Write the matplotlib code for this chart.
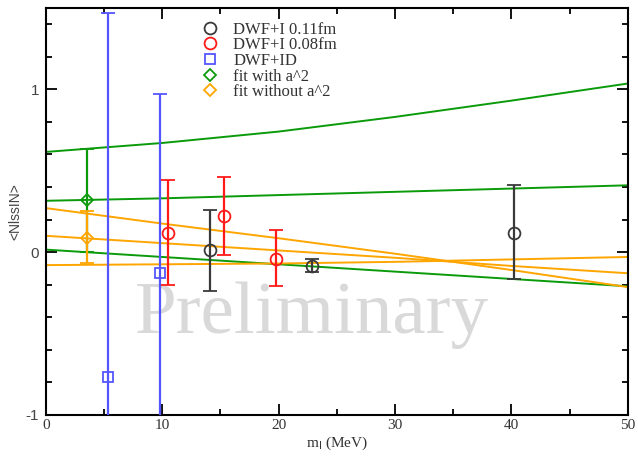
import numpy as np
import matplotlib.pyplot as plt
from matplotlib.lines import Line2D
from matplotlib.ticker import MultipleLocator

# DWF+I 0.11fm
x_011 = [14.1, 22.9, 40.2]
y_011 = [0.01, -0.085, 0.12]
lo_011 = [-0.24, -0.12, -0.165]
hi_011 = [0.26, -0.045, 0.41]

# DWF+I 0.08fm
x_008 = [10.5, 15.3, 19.8]
y_008 = [0.115, 0.22, -0.04]
lo_008 = [-0.205, -0.02, -0.21]
hi_008 = [0.44, 0.46, 0.135]

# DWF+ID
x_id = [5.35, 9.8]
y_id = [-0.77, -0.13]
lo_id = [-3.0, -1.24]
hi_id = [1.47, 0.97]

# fit points at the chiral limit side
x_fit = [3.5]
y_fit_a2 = [0.32]
lo_fit_a2 = [0.0]
hi_fit_a2 = [0.63]
y_fit_noa2 = [0.085]
lo_fit_noa2 = [-0.07]
hi_fit_noa2 = [0.255]

# fit bands
band_x = [0, 10, 20, 30, 40, 50]
a2_upper = [0.615, 0.67, 0.74, 0.83, 0.93, 1.035]
a2_mid = [0.315, 0.33, 0.35, 0.37, 0.39, 0.41]
a2_lower = [0.015, -0.03, -0.075, -0.12, -0.165, -0.21]
noa2_upper = [0.27, 0.175, 0.085, -0.01, -0.11, -0.215]
noa2_mid = [0.10, 0.055, 0.01, -0.035, -0.085, -0.13]
noa2_lower = [-0.08, -0.075, -0.07, -0.06, -0.045, -0.03]

GREEN = "#0a9a0a"
ORANGE = "#ffa500"
BLUE = "#5555ff"
RED = "#ff1a1a"
GREY = "#3a3a3a"

fig = plt.figure(figsize=(6.38, 4.59), dpi=100)
ax = fig.add_axes([0.072, 0.096, 0.912, 0.887])

ax.text(22.9, -0.39, "Preliminary", fontsize=54, family="Liberation Serif",
        color="#d9d9d9", ha="center", va="center", zorder=0)

for ys in (a2_upper, a2_mid, a2_lower):
    ax.plot(band_x, ys, color=GREEN, lw=1.4, zorder=2)
for ys in (noa2_upper, noa2_mid, noa2_lower):
    ax.plot(band_x, ys, color=ORANGE, lw=1.4, zorder=2)


def draw(x, y, lo, hi, color, marker, ms):
    y = np.array(y)
    err = [y - np.array(lo), np.array(hi) - y]
    ax.errorbar(x, y, yerr=err, fmt=marker, color=color, mfc="none",
                mec=color, ms=ms, mew=1.3, elinewidth=1.6, capsize=5,
                capthick=1.6, zorder=3)


draw(x_fit, y_fit_a2, lo_fit_a2, hi_fit_a2, GREEN, "D", 6)
draw(x_fit, y_fit_noa2, lo_fit_noa2, hi_fit_noa2, ORANGE, "D", 6)
draw(x_id, y_id, lo_id, hi_id, BLUE, "s", 6.5)
draw(x_008, y_008, lo_008, hi_008, RED, "o", 8.5)
draw(x_011, y_011, lo_011, hi_011, GREY, "o", 8.5)

ax.set_xlim(0, 50)
ax.set_ylim(-1, 1.5)
ax.xaxis.set_major_locator(MultipleLocator(10))
ax.xaxis.set_minor_locator(MultipleLocator(5))
ax.yaxis.set_major_locator(MultipleLocator(1))
ax.yaxis.set_minor_locator(MultipleLocator(0.2))
ax.tick_params(which="both", direction="in", top=True, right=True, width=1.3)
ax.tick_params(which="major", length=8)
ax.tick_params(which="minor", length=4)
ax.tick_params(axis="x", labelsize=11, pad=3)
ax.tick_params(axis="y", labelsize=11, pad=5)
ax.set_yticks([-1, 0, 1])
ax.set_yticklabels(["-1", "0", "1"], family="Liberation Sans", color="#444444")
ax.set_xticks([0, 10, 20, 30, 40, 50])
ax.set_xticklabels(["0", "10", "20", "30", "40", "50"],
                   family="Liberation Serif", color="#333333")
for s in ax.spines.values():
    s.set_linewidth(1.5)

ax.set_xlabel(r"m$_{\rm l}$ (MeV)", family="Liberation Serif", fontsize=11,
              labelpad=2, color="#333333")
ax.set_ylabel("<NlssIN>", family="Liberation Sans", fontsize=10,
              labelpad=2, color="#444444")

handles = [
    Line2D([], [], ls="none", marker="o", mfc="none", mec=GREY, ms=8.5, mew=1.3),
    Line2D([], [], ls="none", marker="o", mfc="none", mec=RED, ms=8.5, mew=1.3),
    Line2D([], [], ls="none", marker="s", mfc="none", mec=BLUE, ms=6.5, mew=1.3),
    Line2D([], [], ls="none", marker="D", mfc="none", mec=GREEN, ms=6, mew=1.3),
    Line2D([], [], ls="none", marker="D", mfc="none", mec=ORANGE, ms=6, mew=1.3),
]
labels = ["DWF+I 0.11fm", "DWF+I 0.08fm", "DWF+ID", "fit with a^2",
          "fit without a^2"]
ax.legend(handles, labels, loc="upper left", bbox_to_anchor=(0.245, 0.995),
          frameon=False, prop={"family": "Liberation Serif", "size": 12},
          handlelength=1.2, handletextpad=0.8, labelspacing=-0.02,
          borderpad=0.2, labelcolor="#333333")

fig.savefig("out.png", dpi=100)
